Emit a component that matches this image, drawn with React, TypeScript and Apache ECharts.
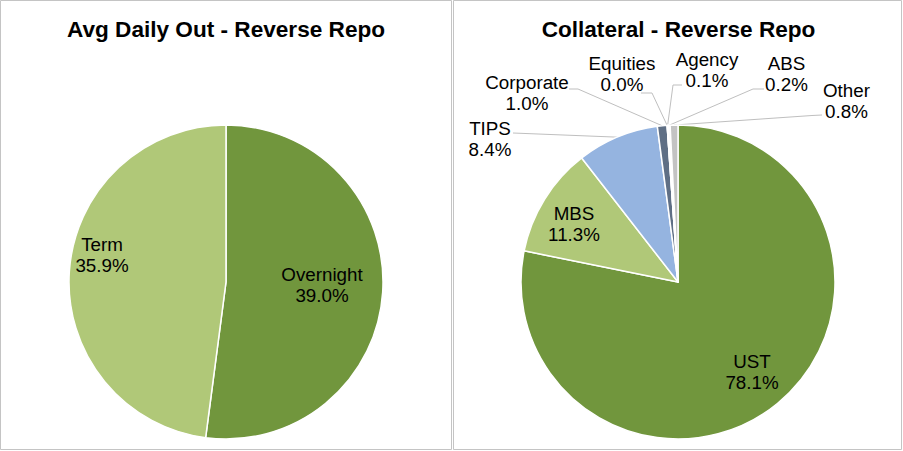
import React, { useEffect, useRef } from "react";
import * as echarts from "echarts";

const leftTitle = "Avg Daily Out - Reverse Repo";
const rightTitle = "Collateral - Reverse Repo";

const outCategories = ["Overnight", "Term"];
const outValues = [39.0, 35.9];
const outColors = ["#71963d", "#b0c878"];

const collCategories = ["UST", "MBS", "TIPS", "Corporate", "Equities", "Agency", "ABS", "Other"];
const collValues = [78.1, 11.3, 8.4, 1.0, 0.0, 0.1, 0.2, 0.8];
const collColors = ["#71963d", "#b0c878", "#95b4e0", "#5f6f85", "#4f5d70", "#fbfbfb", "#f4f4f4", "#c3c3c3"];
const collInside = [true, true, false, false, false, false, false, false];

// label placement (text block centre) and leader-line elbows, in page pixels
const outLabelPos: number[][] = [[322, 285], [102, 255]];
const collLabelPos: number[][] = [
  [752, 372], [574, 223.5], [490, 138.5], [527, 92.5], [622, 74], [707, 70], [786.5, 74], [846.5, 100.5],
];
const collLineEnds: (number[][] | null)[] = [
  null, null,
  [[513, 133], [513, 133]],
  [[578, 89], [569, 89]],
  [[652, 93], [641, 93]],
  [[673, 85], [682, 85]],
  [[753, 89], [764, 89]],
  [[812, 115.5], [822, 115]],
];

const FONT = "Liberation Sans, Arial, sans-serif";

export default function App() {
  const ref = useRef<HTMLDivElement>(null);
  useEffect(() => {
    if (!ref.current) return;
    const chart = echarts.init(ref.current, null, { renderer: "svg" });
    const fmt = (p: any) => `${p.name}\n${Number(p.value).toFixed(1)}%`;
    const labelBase = {
      show: true,
      formatter: fmt,
      fontFamily: FONT,
      fontSize: 18.8,
      lineHeight: 21,
      color: "#000",
      align: "center",
    };
    chart.setOption({
      animation: false,
      backgroundColor: "#ffffff",
      title: [
        {
          text: leftTitle, left: 226, top: 18, textAlign: "center", padding: 0,
          textStyle: { fontFamily: FONT, fontSize: 22.6, fontWeight: "bold", color: "#000" },
        },
        {
          text: rightTitle, left: 678.5, top: 18, textAlign: "center", padding: 0,
          textStyle: { fontFamily: FONT, fontSize: 22.6, fontWeight: "bold", color: "#000" },
        },
      ],
      graphic: [
        { type: "rect", shape: { x: 0.5, y: 0.5, width: 451, height: 449 }, style: { fill: "none", stroke: "#c4c4c4", lineWidth: 1 }, silent: true },
        { type: "rect", shape: { x: 453.5, y: 0.5, width: 448, height: 449 }, style: { fill: "none", stroke: "#c4c4c4", lineWidth: 1 }, silent: true },
      ],
      series: [
        {
          type: "pie",
          center: [226, 282],
          radius: 157,
          startAngle: 90,
          clockwise: true,
          avoidLabelOverlap: false,
          itemStyle: { borderColor: "#ffffff", borderWidth: 1.5 },
          label: { ...labelBase, position: "inside" },
          labelLine: { show: false },
          emphasis: { disabled: true },
          data: outCategories.map((n, i) => ({ name: n, value: outValues[i], itemStyle: { color: outColors[i] } })),
          labelLayout: (p: any) => ({
            x: outLabelPos[p.dataIndex][0],
            y: outLabelPos[p.dataIndex][1],
            align: "center",
            verticalAlign: "middle",
          }),
        },
        {
          type: "pie",
          center: [678, 282],
          radius: 157,
          startAngle: 90,
          clockwise: true,
          avoidLabelOverlap: false,
          itemStyle: { borderColor: "#ffffff", borderWidth: 1.5 },
          label: { ...labelBase, position: "outside" },
          labelLine: { show: true, lineStyle: { color: "#bfbfbf", width: 1 } },
          emphasis: { disabled: true },
          data: collCategories.map((n, i) => ({
            name: n,
            value: collValues[i],
            itemStyle: { color: collColors[i] },
            label: { position: collInside[i] ? "inside" : "outside" },
            labelLine: { show: !collInside[i] },
          })),
          labelLayout: (p: any) => {
            const pos = collLabelPos[p.dataIndex];
            const res: any = { x: pos[0], y: pos[1], align: "center", verticalAlign: "middle" };
            const ends = collLineEnds[p.dataIndex];
            if (ends && p.labelLinePoints && p.labelLinePoints[0]) {
              res.labelLinePoints = [p.labelLinePoints[0], ends[0], ends[1]];
            }
            return res;
          },
        },
      ],
    });
    return () => chart.dispose();
  }, []);
  return <div ref={ref} style={{ position: "absolute", left: 0, top: 0, width: 903, height: 451 }} />;
}
